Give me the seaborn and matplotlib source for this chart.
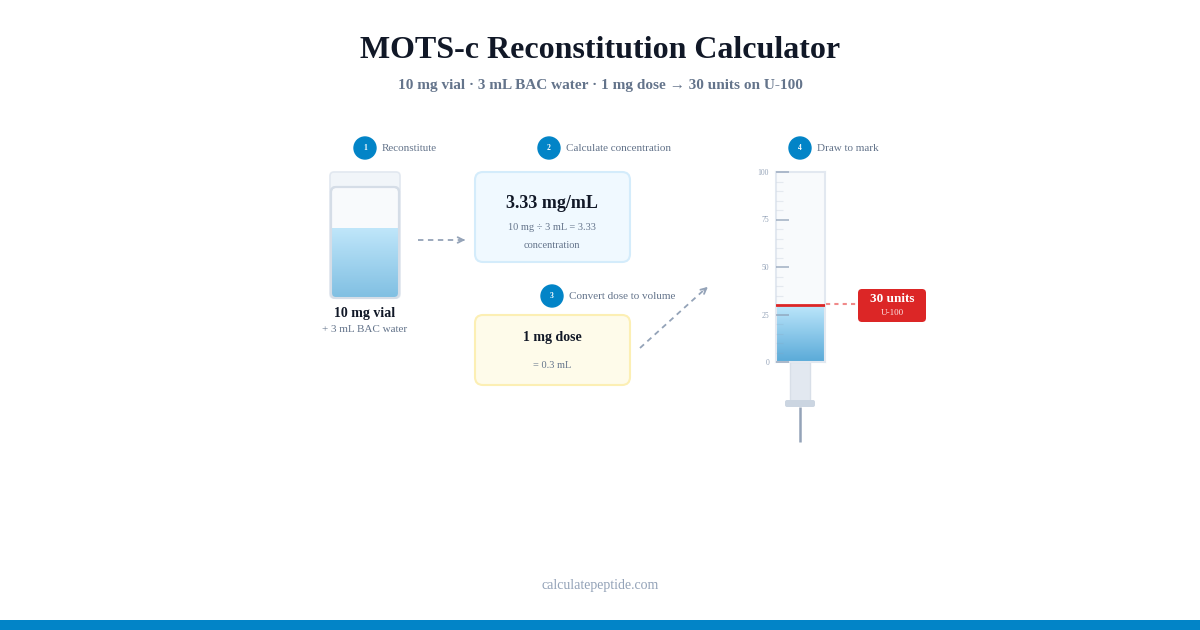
import numpy as np
import matplotlib
matplotlib.use("Agg")
import matplotlib.pyplot as plt
import seaborn as sns
from matplotlib.patches import FancyBboxPatch, Circle, Rectangle

# Values
vial_mg = 10
water_ml = 3
dose_mg = 1
concentration = 3.33
dose_ml = 0.3
units = 30
scale_ticks = [0, 25, 50, 75, 100]
scale_labels = ["0", "25", "50", "75", "100"]
steps = ["Reconstitute", "Calculate concentration", "Convert dose to volume", "Draw to mark"]

sns.set_theme(style="white")
plt.rcParams["font.family"] = ["Liberation Serif", "DejaVu Serif"]

DARK = "#111827"
GRAY = "#64748b"
LIGHT = "#94a3b8"
BLUE = "#0284c7"
RED = "#dc2626"

fig = plt.figure(figsize=(12, 6.3), dpi=100)
fig.patch.set_facecolor("white")
ax = fig.add_axes([0, 0, 1, 1])
ax.set_xlim(0, 1200)
ax.set_ylim(630, 0)
ax.axis("off")

# Title
ax.text(600, 50, "MOTS-c Reconstitution Calculator", ha="center", va="center",
        fontsize=23, fontweight="bold", color=DARK)
ax.text(600, 86, f"{vial_mg} mg vial · {water_ml} mL BAC water · {dose_mg} mg dose → {units} units on U-100",
        ha="center", va="center", fontsize=11, fontweight="bold", color=GRAY)


def step(x, y, n, label):
    ax.add_patch(Circle((x, y), 11, color=BLUE, zorder=3))
    ax.text(x, y + 0.5, str(n), ha="center", va="center", fontsize=5.5,
            color="white", fontweight="bold", zorder=4)
    ax.text(x + 17, y + 0.5, label, ha="left", va="center", fontsize=8, color=GRAY)


step(365, 148, 1, steps[0])
step(549, 148, 2, steps[1])
step(552, 296, 3, steps[2])
step(800, 148, 4, steps[3])

# Vial
ax.add_patch(FancyBboxPatch((330, 172), 70, 126, boxstyle="round,pad=0,rounding_size=4",
                            fc="#f1f5f9", ec="#e2e8f0", lw=1.2))
body = FancyBboxPatch((331, 187), 68, 111, boxstyle="round,pad=0,rounding_size=5",
                      fc="#f8fafc", ec="#d5dde7", lw=1.5, zorder=2)
ax.add_patch(body)
grad = np.linspace(0, 1, 100).reshape(-1, 1)
cmap_liq = matplotlib.colors.LinearSegmentedColormap.from_list("liq", ["#bfe6fa", "#80bfe2"])
im = ax.imshow(grad, cmap=cmap_liq, extent=(331, 399, 298, 228), aspect="auto", zorder=2.5)
im.set_clip_path(body)
ax.add_patch(FancyBboxPatch((331, 187), 68, 111, boxstyle="round,pad=0,rounding_size=5",
                            fc="none", ec="#d5dde7", lw=1.5, zorder=3))
ax.text(365, 313, f"{vial_mg} mg vial", ha="center", va="center", fontsize=10,
        fontweight="bold", color=DARK)
ax.text(365, 330, f"+ {water_ml} mL BAC water", ha="center", va="center", fontsize=8, color=GRAY)

# Arrow vial -> concentration
ax.plot([418, 464], [240, 240], ls=(0, (3, 2.5)), color=LIGHT, lw=1.3)
ax.annotate("", xy=(468, 240), xytext=(460, 240),
            arrowprops=dict(arrowstyle="->", color=LIGHT, lw=1.3, mutation_scale=10))

# Concentration box
ax.add_patch(FancyBboxPatch((475, 172), 155, 90, boxstyle="round,pad=0,rounding_size=8",
                            fc="#f0f9ff", ec="#d4ecfb", lw=1.5))
ax.text(552, 204, f"{concentration:.2f} mg/mL", ha="center", va="center", fontsize=13,
        fontweight="bold", color=DARK)
ax.text(552, 228, f"{vial_mg} mg ÷ {water_ml} mL = {concentration:.2f}", ha="center",
        va="center", fontsize=7.5, color=GRAY)
ax.text(552, 245, "concentration", ha="center", va="center", fontsize=7.5, color=GRAY)

# Dose box
ax.add_patch(FancyBboxPatch((475, 315), 155, 70, boxstyle="round,pad=0,rounding_size=8",
                            fc="#fefbea", ec="#fcefb4", lw=1.5))
ax.text(552, 338, f"{dose_mg} mg dose", ha="center", va="center", fontsize=10,
        fontweight="bold", color=DARK)
ax.text(552, 365, f"= {dose_ml} mL", ha="center", va="center", fontsize=7.5, color=GRAY)

# Arrow dose -> syringe
ax.plot([640, 705], [348, 289], ls=(0, (3, 2.5)), color=LIGHT, lw=1.3)
ax.annotate("", xy=(710, 285), xytext=(702, 292),
            arrowprops=dict(arrowstyle="->", color=LIGHT, lw=1.3, mutation_scale=10))

# Syringe plunger, flange, needle
ax.add_patch(Rectangle((790, 362), 20, 40, fc="#e2e8f0", ec="#d8dfe8", lw=1))
ax.add_patch(FancyBboxPatch((785, 400), 30, 7, boxstyle="round,pad=0,rounding_size=2",
                            fc="#cbd5e1", ec="none"))
ax.plot([800, 800], [407, 442], color=LIGHT, lw=1.8, solid_capstyle="butt")

# Syringe barrel as its own axes (0-100 units scale)
sx = fig.add_axes([776 / 1200, (630 - 362) / 630, 49 / 1200, 190 / 630])
sx.set_facecolor("#f8fafc")
sns.barplot(x=["dose"], y=[units], ax=sx, width=1.0, color="#9fd3ef", saturation=1)
sx.set_xlim(-0.5, 0.5)
sx.set_ylim(0, 100)
bar = sx.patches[0]
bar.set_edgecolor("none")
sgrad = np.linspace(0, 1, 100).reshape(-1, 1)
cmap_syr = matplotlib.colors.LinearSegmentedColormap.from_list("syr", ["#5aaad8", "#bce6fb"])
sim = sx.imshow(sgrad, cmap=cmap_syr, origin="lower", extent=(-0.5, 0.5, 0, units),
                aspect="auto", zorder=bar.get_zorder() + 0.1)
sim.set_clip_path(bar)
sx.axhline(units, color=RED, lw=2, zorder=5)
sx.set_axisbelow(False)
sx.set_xticks([])
sx.set_yticks(scale_ticks)
sx.set_yticklabels(scale_labels)
sx.set_yticks(np.arange(0, 101, 5), minor=True)
sx.tick_params(axis="y", which="major", direction="in", length=9, width=1.2,
               color=(0.55, 0.62, 0.71, 0.75), labelsize=5.5, labelcolor=LIGHT, pad=5, left=True)
sx.tick_params(axis="y", which="minor", direction="in", length=5, width=0.8,
               color=(0.55, 0.62, 0.71, 0.18), left=True)
sx.set_xlabel("")
sx.set_ylabel("")
for s in sx.spines.values():
    s.set_color("#e2e8f0")
    s.set_linewidth(1.5)

# Units label
ax.plot([826, 857], [304, 304], ls=(0, (2, 2)), color="#f08a8a", lw=1.5)
ax.add_patch(FancyBboxPatch((858, 289), 68, 33, boxstyle="round,pad=0,rounding_size=4",
                            fc=RED, ec="none"))
ax.text(892, 298.5, f"{units} units", ha="center", va="center", fontsize=9.5,
        fontweight="bold", color="white")
ax.text(892, 313, "U-100", ha="center", va="center", fontsize=6.5, color="#fde2e2")

# Footer
ax.text(600, 585, "calculatepeptide.com", ha="center", va="center", fontsize=10, color=LIGHT)
ax.add_patch(Rectangle((0, 620), 1200, 10, fc=BLUE, ec="none"))

fig.savefig("out.png", dpi=100, facecolor="white")
